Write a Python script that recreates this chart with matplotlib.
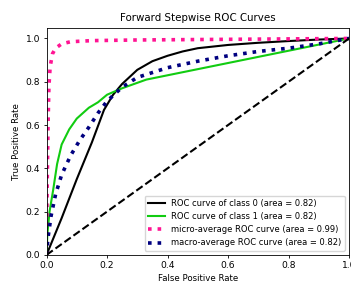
import numpy as np
import matplotlib
matplotlib.use("Agg")
import matplotlib.pyplot as plt

fpr_class0 = [0.0, 0.05, 0.10, 0.15, 0.19, 0.22, 0.25, 0.30, 0.35, 0.40, 0.45, 0.50, 0.60, 0.70, 0.80, 0.90, 1.0]
tpr_class0 = [0.0, 0.17, 0.35, 0.52, 0.67, 0.74, 0.79, 0.855, 0.895, 0.92, 0.94, 0.955, 0.97, 0.98, 0.988, 0.995, 1.0]

fpr_class1 = [0.0, 0.003, 0.01, 0.022, 0.035, 0.05, 0.075, 0.10, 0.14, 0.17, 0.20, 0.25, 0.33, 1.0]
tpr_class1 = [0.0, 0.10, 0.20, 0.30, 0.42, 0.51, 0.58, 0.63, 0.68, 0.705, 0.74, 0.77, 0.81, 1.0]

fpr_micro = [0.0, 0.002, 0.005, 0.008, 0.012, 0.02, 0.03, 0.05, 0.08, 0.15, 0.30, 0.60, 1.0]
tpr_micro = [0.0, 0.30, 0.60, 0.78, 0.87, 0.93, 0.955, 0.975, 0.985, 0.99, 0.993, 0.996, 1.0]

fpr_macro = [0.0, 0.005, 0.015, 0.03, 0.05, 0.08, 0.11, 0.14, 0.17, 0.20, 0.25, 0.30, 0.40, 0.50, 0.60, 0.70, 0.80, 0.90, 1.0]
tpr_macro = [0.0, 0.08, 0.18, 0.28, 0.37, 0.46, 0.53, 0.59, 0.655, 0.71, 0.775, 0.82, 0.865, 0.895, 0.92, 0.94, 0.955, 0.975, 1.0]

labels = ['ROC curve of class 0 (area = 0.82)',
          'ROC curve of class 1 (area = 0.82)',
          'micro-average ROC curve (area = 0.99)',
          'macro-average ROC curve (area = 0.82)']

fig = plt.figure(figsize=(3.51, 2.82), dpi=100)
ax = fig.add_axes([0.1325, 0.096, 0.862, 0.806])

ax.plot(fpr_class0, tpr_class0, color='black', lw=1.5, label=labels[0])
ax.plot(fpr_class1, tpr_class1, color='#11cc11', lw=1.5, label=labels[1])
ax.plot(fpr_micro, tpr_micro, color='deeppink', linestyle=':', lw=2.6, label=labels[2])
ax.plot(fpr_macro, tpr_macro, color='navy', linestyle=':', lw=2.6, label=labels[3])
ax.plot([0, 1], [0, 1], 'k--', lw=1.5)

ax.set_xlim([0.0, 1.0])
ax.set_ylim([0.0, 1.05])
ax.set_xlabel('False Positive Rate', fontsize=6.2, labelpad=3)
ax.set_ylabel('True Positive Rate', fontsize=6.2, labelpad=3)
ax.set_title('Forward Stepwise ROC Curves', fontsize=7.4, pad=5)
ax.tick_params(labelsize=6.6, length=2.5, width=0.6, pad=2)
for s in ax.spines.values():
    s.set_linewidth(0.6)
ax.legend(loc='lower right', fontsize=6)

fig.savefig('out.png', dpi=100)
